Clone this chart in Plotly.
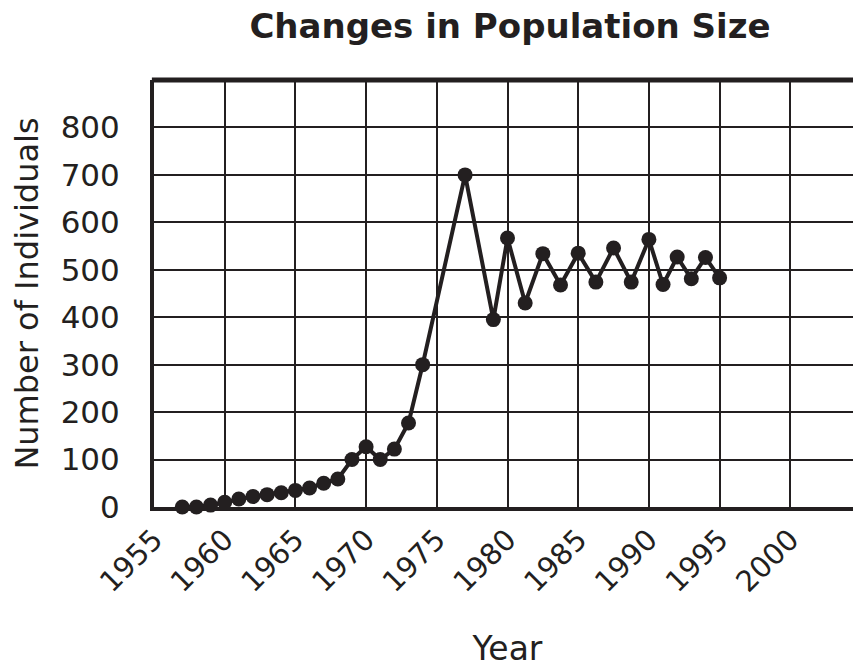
import plotly.graph_objects as go

years = [1957, 1958, 1959, 1960, 1961, 1962, 1963, 1964, 1965, 1966, 1967, 1968,
         1969, 1970, 1971, 1972, 1973, 1974, 1977, 1979,
         1980, 1981.25, 1982.5, 1983.75, 1985, 1986.25, 1987.5, 1988.75, 1990,
         1991, 1992, 1993, 1994, 1995]
individuals = [0, 0, 4, 10, 17, 22, 26, 30, 35, 40, 50, 59,
               100, 127, 100, 122, 177, 300, 700, 395,
               567, 430, 534, 468, 535, 474, 546, 474, 564,
               469, 527, 481, 526, 483]

x_ticks = [1955, 1960, 1965, 1970, 1975, 1980, 1985, 1990, 1995, 2000]
y_ticks = [0, 100, 200, 300, 400, 500, 600, 700, 800]

ink = "#231f20"
font = "DejaVu Sans"

fig = go.Figure()
fig.add_trace(go.Scatter(
    x=years, y=individuals, mode="lines+markers",
    line=dict(color=ink, width=4),
    marker=dict(color=ink, size=15),
    cliponaxis=False, showlegend=False,
))

fig.update_layout(
    width=861, height=667,
    margin=dict(l=146, r=8, t=72, b=168),
    paper_bgcolor="white", plot_bgcolor="white",
    title=dict(text="<b>Changes in Population Size</b>", x=502 / 861, xanchor="center",
               y=1 - 18 / 667, yanchor="middle",
               font=dict(family=font, size=34, color=ink)),
    xaxis=dict(range=[1955, 2005], tickvals=x_ticks, ticktext=[str(t) for t in x_ticks],
               tickangle=-45, tickfont=dict(family=font, size=29, color=ink),
               showgrid=True, gridcolor=ink, gridwidth=2,
               showline=True, linecolor=ink, linewidth=4,
               zeroline=False, ticks="",
               title=dict(text="Year", font=dict(family=font, size=33, color=ink), standoff=40)),
    yaxis=dict(range=[0, 900], tickvals=y_ticks, ticktext=[str(t) for t in y_ticks],
               tickfont=dict(family=font, size=31, color=ink),
               showgrid=True, gridcolor=ink, gridwidth=2,
               showline=True, linecolor=ink, linewidth=4,
               zeroline=False, ticks="", ticklabelstandoff=24,
               title=dict(text="Number of Individuals", font=dict(family=font, size=32, color=ink),
                          standoff=20)),
)
fig.add_shape(type="line", xref="paper", yref="paper", x0=-0.003, x1=1.02, y0=1, y1=1,
              line=dict(color=ink, width=5))

fig.write_html("out.html")
